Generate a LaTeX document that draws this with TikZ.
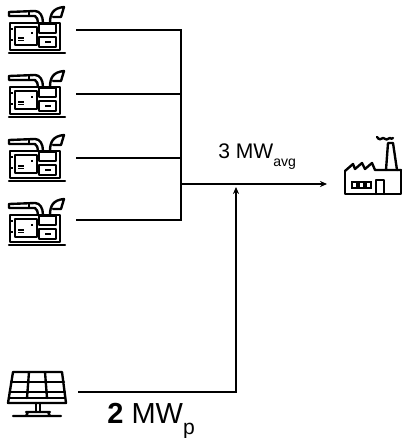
\documentclass[tikz,border=0pt]{standalone}
\usepackage{fontspec}
\setmainfont{Liberation Sans}
\usetikzlibrary{arrows.meta,positioning,calc}
\tikzset{
  icon/.style={line width=1.35pt,line join=round,line cap=round},
  thinicon/.style={line width=1pt},
  wire/.style={line width=0.9pt},
  feed/.style={line width=0.9pt,-{Stealth[length=4pt,width=3.5pt]}},
  generator/.pic={
    \draw[icon] (2,48) -- (58,48); % 台座の線
    \draw[icon] (3,18) rectangle (53,45); % 発電機の本体
    \draw[icon] (8,22) rectangle (30,40); % 左側の扉
    \draw[icon] (32,19) rectangle (49,28); % 右上の箱
    \draw[icon] (32,32) rectangle (49,42); % 右下の箱
    \draw[icon] (2,7) -- (28,6) .. controls (33,6) and (36,11) .. (36,18); % 上部の配管
    \draw[icon] (2,7) -- (2,11) -- (28,11) .. controls (30,12) and (31,15) .. (31,18); % 配管の下側
    \draw[icon] (22,6) -- (22,11); % 配管の継ぎ目
    \draw[icon] (43,18) .. controls (43,9) and (46,3) .. (57,2) -- (54,12) -- (46,12); % 右上の排気口
    \draw[thinicon] (11,33) -- (17,33) (11,35.5) -- (17,35.5) (25,27) -- (25,29) (38,37) -- (44,37); % 細かな印
    \draw[thinicon] (3,24) -- (6,24) (3,35) -- (6,35); % 扉の蝶番
  },
  factory/.pic={
    \draw[icon] (0,29) -- (0,52) -- (56,52) -- (56,28); % 建屋の外形
    \draw[icon] (0,29) -- (8,22) -- (10,27) -- (17,21) -- (20,27) -- (27,21) -- (30,28) -- (56,28); % のこぎり屋根
    \draw[icon] (41,28) -- (43,1) -- (48,1) -- (52,28); % 煙突
    \draw[icon] (32,-5) .. controls (34,-2) and (36,-2) .. (38,-4) .. controls (40,-2) and (43,-2) .. (45,-4) .. controls (46,-3) and (47,-3) .. (48,-4); % 煙
    \foreach \wx in {7,14,21} {
      \draw[thinicon] (\wx,40) rectangle +(5,6); % 窓
    }
    \draw[icon] (31,52) -- (31,38) -- (39,38) -- (39,52); % 扉
  },
  solarpanel/.pic={
    \draw[icon] (5,0) -- (54,0) -- (58,31) -- (0,31) -- cycle; % パネルの外形
    \draw[icon] (3,10) -- (56,10) (2,20) -- (57,20) (1,26) -- (57,26); % 横の桟
    \draw[icon] (21,0) -- (19,26) (37,0) -- (39,26); % 縦の桟
    \draw[icon] (28,31) -- (28,40) (32,31) -- (32,40); % 支柱
    \draw[icon] (18,40) -- (42,40) (5,44) -- (53,44) (20,40) -- (18,44) (40,40) -- (42,44); % 脚
  }
}
\begin{document}
\begin{tikzpicture}[x=0.02cm,y=-0.02cm]
  \useasboundingbox (0,0) rectangle (404,438); % 余白を含む範囲
  \foreach \gy in {5,69,133,197} {
    \pic at (7,\gy) {generator}; % 発電機のアイコン
  }
  \pic at (345,142) {factory}; % 工場のアイコン
  \pic at (8,372) {solarpanel}; % 太陽光パネルのアイコン
  \coordinate (genA) at (76,30);
  \coordinate (genB) at (76,94);
  \coordinate (genC) at (76,158);
  \coordinate (genD) at (76,220);
  \coordinate (busA) at (181,30);
  \coordinate (busB) at (181,94);
  \coordinate (busC) at (181,158);
  \coordinate (busD) at (181,220);
  \coordinate (busOut) at (181,184);
  \coordinate (plant) at (327,184);
  \coordinate (pvStart) at (78,392);
  \coordinate (pvCorner) at (236,392);
  \coordinate (pvEnd) at (236,187);
  \draw[wire] (genA) -- (busA) -- (busD) -- (genD); % 母線と上下の発電機
  \draw[wire] (genB) -- (busB); % 2台目の発電機の線
  \draw[wire] (genC) -- (busC); % 3台目の発電機の線
  \draw[feed] (busOut) -- (plant); % 工場へ向かう線
  \draw[feed] (pvStart) -- (pvCorner) -- (pvEnd); % 太陽光から合流点へ向かう線
  \node[anchor=base west,inner sep=0pt,font=\fontsize{12}{14}\selectfont] (avgLabel) at (218,159) {3 MW\raisebox{-4.5pt}{\fontsize{8}{10}\selectfont avg}}; % 平均出力
  \node[anchor=base west,inner sep=0pt,font=\fontsize{16.5}{20}\selectfont] (peakLabel) at (107,423) {\textbf{2} MW\raisebox{-6.5pt}{\fontsize{12}{14}\selectfont p}}; % ピーク出力
\end{tikzpicture}
\end{document}
